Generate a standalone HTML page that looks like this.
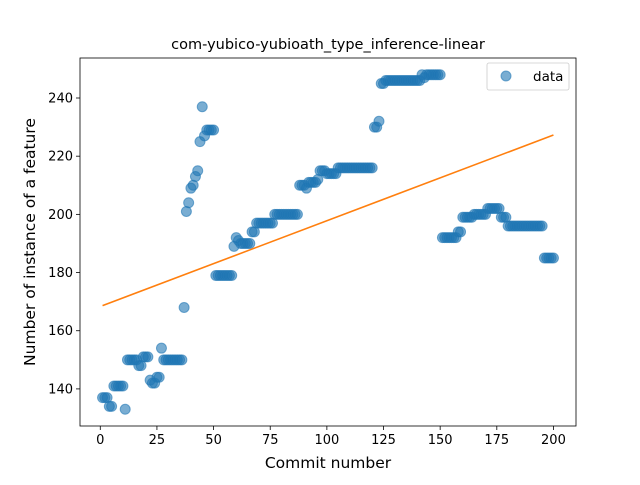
<!DOCTYPE html>
<html><head><meta charset="utf-8"><style>
body{margin:0;background:#fff}
svg text{font-family:"DejaVu Sans","Liberation Sans",sans-serif;fill:#000}
</style></head><body>
<svg id="chart" width="640" height="480" xmlns="http://www.w3.org/2000/svg">
<rect width="640" height="480" fill="#fff"/>
<g id="plot"></g>
<rect x="80" y="58" width="496" height="368" fill="none" stroke="#000" stroke-width="0.8"/>
<text x="328" y="49" font-size="14.5" text-anchor="middle">com-yubico-yubioath_type_inference-linear</text>
<text x="328" y="468" font-size="15.5" text-anchor="middle">Commit number</text>
<text transform="translate(35,242) rotate(-90)" font-size="15.5" text-anchor="middle">Number of instance of a feature</text>
<g id="axes"></g>
<g>
<rect x="487" y="63" width="82" height="27" rx="2" fill="#fff" stroke="#ccc" stroke-width="0.8"/>
<circle cx="506" cy="76" r="5" fill="#1f77b4" fill-opacity="0.6" stroke="#1f77b4" stroke-opacity="0.6"/>
<text x="533" y="81" font-size="13.5">data</text>
</g>
</svg>
<script>
const xTicks=[0,25,50,75,100,125,150,175,200];
const yTicks=[140,160,180,200,220,240];
const values=[137,137,137,134,134,141,141,141,141,141,133,150,150,150,150,150,148,148,151,151,151,143,142,142,144,144,154,150,150,150,150,150,150,150,150,150,168,201,204,209,210,213,215,225,237,227,229,229,229,229,
179,179,179,179,179,179,179,179,189,192,191,190,190,190,190,190,194,194,197,197,197,197,197,197,197,197,200,200,200,200,200,200,200,200,200,200,200,
210,210,210,209,211,211,211,211,212,215,215,215,214,214,214,214,214,216,216,216,216,216,216,216,216,216,216,216,216,216,216,216,216,
230,230,232,245,245,246,246,246,246,246,246,246,246,246,246,246,246,246,246,246,246,248,247,248,248,248,248,248,248,248,
192,192,192,192,192,192,192,194,194,199,199,199,199,199,200,200,200,200,200,200,202,202,202,202,202,202,199,199,199,196,196,196,196,196,196,196,196,196,196,196,196,196,196,196,196,185,185,185,185,185];
const commits=values.map((v,i)=>i+1);
const NS="http://www.w3.org/2000/svg";
const L=80,R=576,T=58,B=426;
const n=commits.length;
const xmin=Math.min(...commits),xmax=Math.max(...commits);
const ymin=Math.min(...values),ymax=Math.max(...values);
const x0=xmin-(xmax-xmin)*0.05,x1=xmax+(xmax-xmin)*0.05;
const y0=ymin-(ymax-ymin)*0.05,y1=ymax+(ymax-ymin)*0.05;
const X=v=>L+(v-x0)/(x1-x0)*(R-L);
const Y=v=>B-(v-y0)/(y1-y0)*(B-T);
const plot=document.getElementById('plot'),axes=document.getElementById('axes');
function mk(tag,attrs,parent){const e=document.createElementNS(NS,tag);for(const k in attrs)e.setAttribute(k,attrs[k]);parent.appendChild(e);return e;}
commits.forEach((c,i)=>{
 const e=mk('circle',{cx:X(c),cy:Y(values[i]),r:5,fill:'#1f77b4','fill-opacity':0.6,stroke:'#1f77b4','stroke-opacity':0.6},plot);
 
 
});
let sx=0,sy=0,sxx=0,sxy=0;
commits.forEach((c,i)=>{sx+=c;sy+=values[i];sxx+=c*c;sxy+=c*values[i];});
const slope=(n*sxy-sx*sy)/(n*sxx-sx*sx),icpt=(sy-slope*sx)/n;
const fit=mk('line',{x1:X(xmin),y1:Y(icpt+slope*xmin),x2:X(xmax),y2:Y(icpt+slope*xmax),stroke:'#ff7f0e','stroke-width':1.6},plot);


xTicks.forEach(t=>{
 const l=mk('line',{x1:X(t),x2:X(t),y1:B,y2:B+4,stroke:'#000','stroke-width':0.8},axes);
 
 
 const tx=mk('text',{x:X(t),y:B+18,'font-size':13,'text-anchor':'middle'},axes);
 tx.textContent=t;
 
 
});
yTicks.forEach(t=>{
 const l=mk('line',{x1:L-4,x2:L,y1:Y(t),y2:Y(t),stroke:'#000','stroke-width':0.8},axes);
 
 
 const tx=mk('text',{x:L-7,y:Y(t)+4.5,'font-size':13,'text-anchor':'end'},axes);
 tx.textContent=t;
 
 
});
</script>
</body></html>
